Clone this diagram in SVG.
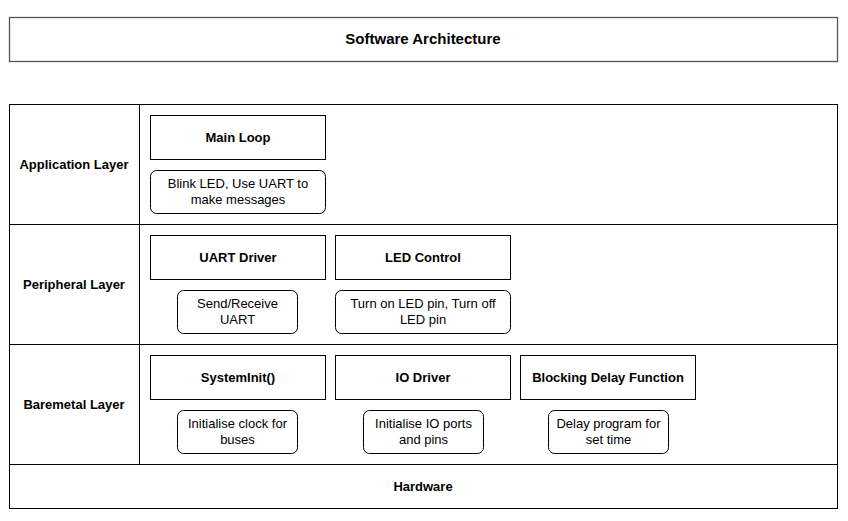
<svg xmlns="http://www.w3.org/2000/svg" width="848" height="521" viewBox="0 0 848 521">
<style>
.t{font-family:"Liberation Sans",Arial,sans-serif;font-size:13px;fill:#000;text-anchor:middle}
.b{font-weight:bold}
.box{fill:#fff;stroke:#000;stroke-width:1}
.ln{stroke:#000;stroke-width:1;fill:none}
</style>
<rect width="848" height="521" fill="#fff"/>
<g id="title">
<rect x="9.5" y="17.5" width="828" height="44" fill="#fff" stroke="#555" stroke-width="1.3"/>
<text class="t b" x="423" y="44" style="font-size:15px">Software Architecture</text>
</g>
<g id="layers">
<rect class="box" x="9.5" y="104.5" width="828" height="404"/>
<line class="ln" x1="9.5" y1="224.5" x2="837.5" y2="224.5"/>
<line class="ln" x1="9.5" y1="344.5" x2="837.5" y2="344.5"/>
<line class="ln" x1="9.5" y1="464.5" x2="837.5" y2="464.5"/>
<line class="ln" x1="139.5" y1="104.5" x2="139.5" y2="464.5"/>
</g>
<g id="app-label"><text class="t b" x="74" y="169">Application Layer</text></g>
<g id="per-label"><text class="t b" x="74" y="289">Peripheral Layer</text></g>
<g id="bare-label"><text class="t b" x="74" y="409">Baremetal Layer</text></g>
<g id="hardware"><text class="t b" x="423" y="491">Hardware</text></g>
<g id="main-loop">
<rect class="box" x="150.5" y="115.5" width="175" height="44"/>
<text class="t b" x="238" y="142">Main Loop</text>
</g>
<g id="main-loop-desc">
<rect class="box" x="150.5" y="170.5" width="175" height="43" rx="6"/>
<text class="t" x="238" y="188">Blink LED, Use UART to</text>
<text class="t" x="238" y="204">make messages</text>
</g>
<g id="uart-driver">
<rect class="box" x="150.5" y="235.5" width="175" height="44"/>
<text class="t b" x="238" y="262">UART Driver</text>
</g>
<g id="uart-desc">
<rect class="box" x="177.5" y="290.5" width="120" height="43" rx="6"/>
<text class="t" x="237.5" y="308">Send/Receive</text>
<text class="t" x="237.5" y="324">UART</text>
</g>
<g id="led-control">
<rect class="box" x="335.5" y="235.5" width="175" height="44"/>
<text class="t b" x="423" y="262">LED Control</text>
</g>
<g id="led-desc">
<rect class="box" x="335.5" y="290.5" width="175" height="43" rx="6"/>
<text class="t" x="423" y="308">Turn on LED pin, Turn off</text>
<text class="t" x="423" y="324">LED pin</text>
</g>
<g id="systeminit">
<rect class="box" x="150.5" y="355.5" width="175" height="44"/>
<text class="t b" x="238" y="382">SystemInit()</text>
</g>
<g id="systeminit-desc">
<rect class="box" x="177.5" y="410.5" width="120" height="43" rx="6"/>
<text class="t" x="237.5" y="428">Initialise clock for</text>
<text class="t" x="237.5" y="444">buses</text>
</g>
<g id="io-driver">
<rect class="box" x="335.5" y="355.5" width="175" height="44"/>
<text class="t b" x="423" y="382">IO Driver</text>
</g>
<g id="io-desc">
<rect class="box" x="363.5" y="410.5" width="120" height="43" rx="6"/>
<text class="t" x="423.5" y="428">Initialise IO ports</text>
<text class="t" x="423.5" y="444">and pins</text>
</g>
<g id="delay">
<rect class="box" x="520.5" y="355.5" width="175" height="44"/>
<text class="t b" x="608" y="382">Blocking Delay Function</text>
</g>
<g id="delay-desc">
<rect class="box" x="548.5" y="410.5" width="120" height="43" rx="6"/>
<text class="t" x="608.5" y="428">Delay program for</text>
<text class="t" x="608.5" y="444">set time</text>
</g>
<g id="connectors"></g>
</svg>
